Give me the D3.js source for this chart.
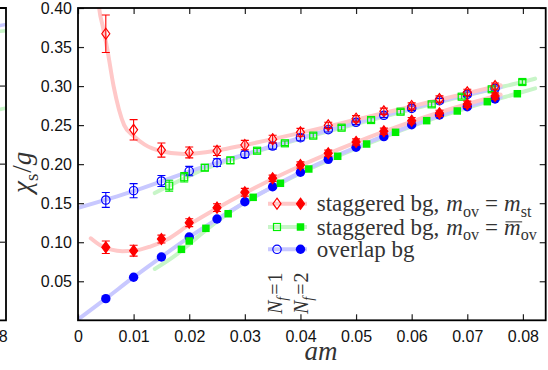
<!DOCTYPE html>
<html><head><meta charset="utf-8">
<script src="https://cdn.jsdelivr.net/npm/d3@7"></script>
<style>body{margin:0;background:#fff}svg{display:block}</style>
</head><body><svg id="c" width="548" height="370"></svg>
<script>
// ---------- data ----------
const xTickValues = [0,0.01,0.02,0.03,0.04,0.05,0.06,0.07,0.08];
const xTickLabels = ["0","0.01","0.02","0.03","0.04","0.05","0.06","0.07","0.08"];
const yTickValues = [0.05,0.10,0.15,0.20,0.25,0.30,0.35,0.40];
const yTickLabels = ["0.05","0.10","0.15","0.20","0.25","0.30","0.35","0.40"];

const massX = [0.005,0.01,0.015,0.02,0.025,0.03,0.035,0.04,0.045,0.05,0.055,0.06,0.065,0.07,0.075];
// staggered bg, m_ov = m_st
const stNf1Y   = [0.367,0.244,0.218,0.215,0.217,0.2245,0.232,0.2408,0.2497,0.2582,0.2677,0.2745,0.2834,0.292,0.300];
const stNf1Err = [0.024,0.013,0.009,0.007,0.006,0.006,0.005,0.005,0.004,0.004,0.004,0.004,0.004,0.004,0.004];
const stNf2Y   = [0.0935,0.0892,0.1041,0.125,0.1443,0.164,0.1819,0.1989,0.2139,0.2284,0.2421,0.2557,0.2651,0.2767,0.2873];
const stNf2Err = [0.008,0.007,0.005,0.005,0.005,0.005,0.004,0.004,0.004,0.004,0.004,0.004,0.004,0.004,0.004];
// overlap bg
const ovNf1Y   = [0.1541,0.166,0.1784,0.1912,0.2019,0.2126,0.2232,0.2339,0.2441,0.2536,0.2626,0.2715,0.2813,0.2895,0.2971];
const ovNf1Err = [0.0095,0.009,0.007,0.006,0.005,0.004,0.004,0.004,0.003,0.003,0.003,0.003,0.003,0.003,0.003];
const ovNf2Y   = [0.0277,0.0551,0.0811,0.1067,0.1297,0.1519,0.1711,0.1896,0.2062,0.2216,0.2352,0.2505,0.263,0.2736,0.2834];
// staggered bg, m_ov = mbar_ov
const sbNf1X   = [0.0164,0.0191,0.0228,0.0274,0.0322,0.0372,0.0423,0.0474,0.0527,0.058,0.0636,0.069,0.0744,0.0799];
const sbNf1Y   = [0.1724,0.1832,0.1955,0.2048,0.2172,0.2267,0.2365,0.2467,0.2565,0.2672,0.2766,0.2864,0.2959,0.3052];
const sbNf1Err = [0.007,0.006,0.004,0.004,0.003,0.003,0.003,0.003,0.003,0.003,0.003,0.003,0.003,0.003];
const sbNf2X   = [0.0186,0.0200,0.0230,0.0270,0.0315,0.0364,0.0415,0.0467,0.0519,0.0571,0.0627,0.0682,0.0736,0.0790];
const sbNf2Y   = [0.0909,0.1016,0.1178,0.1365,0.1575,0.1755,0.1938,0.2101,0.2258,0.2408,0.2557,0.2681,0.2800,0.2902];

// fit curves
const fitStNf1X = [0.0033,0.0038,0.0045,0.0052,0.0064,0.0083,0.010,0.012,0.015,0.019,0.025,0.03,0.04,0.05,0.06,0.07,0.076];
const fitStNf1Y = [0.44,0.40,0.375,0.35,0.30,0.25,0.236,0.225,0.2165,0.213,0.2175,0.2245,0.240,0.257,0.274,0.291,0.301];
const fitStNf2X = [0.0023,0.004,0.006,0.008,0.010,0.013,0.016,0.02,0.025,0.03,0.04,0.05,0.06,0.07,0.076];
const fitStNf2Y = [0.105,0.096,0.0905,0.0885,0.089,0.0945,0.1035,0.1225,0.1435,0.163,0.198,0.228,0.2545,0.277,0.289];
const fitOvNf1X = [0,0.01,0.02,0.03,0.04,0.05,0.06,0.07,0.076];
const fitOvNf1Y = [0.1440,0.1655,0.1905,0.2125,0.2335,0.253,0.2715,0.289,0.2985];
const fitOvNf2X = [0,0.005,0.01,0.015,0.02,0.025,0.03,0.04,0.05,0.06,0.07,0.076];
const fitOvNf2Y = [0.001,0.0277,0.0552,0.0812,0.1065,0.1295,0.151,0.1895,0.2215,0.2495,0.2735,0.2855];
const fitSbNf1X = [0.0138,0.0164,0.0191,0.0228,0.0274,0.0322,0.0372,0.0423,0.0474,0.0527,0.058,0.0636,0.069,0.0744,0.0799,0.0822];
const fitSbNf1Y = [0.163,0.1725,0.182,0.194,0.2055,0.2165,0.227,0.2368,0.2465,0.2565,0.2665,0.277,0.2865,0.296,0.3052,0.3095];
const fitSbNf2X = [0.0138,0.0186,0.02,0.023,0.027,0.0315,0.0364,0.0415,0.0467,0.0519,0.0571,0.0627,0.0682,0.0736,0.079,0.0822];
const fitSbNf2Y = [0.0657,0.089,0.0975,0.1155,0.137,0.1575,0.1755,0.1935,0.2100,0.2255,0.2405,0.2555,0.2678,0.2797,0.2905,0.297];

// fragments of the neighbouring panel at the far left
const leftPanelX = [0.0800,0.0826];
const leftBlueY  = [0.376,0.379];
const leftGreenY = [0.369,0.371];
const leftGreen2Y= [0.268,0.272];
const leftTickValues = [0.1,0.2,0.3];

// ---------- drawing ----------
const svg = d3.select("#c");
svg.append("rect").attr("width",548).attr("height",370).attr("fill","#fff");

const x = d3.scaleLinear().domain([0,0.0841]).range([78,545.7]);
const y = d3.scaleLinear().domain([0,0.4]).range([320.3,8]);

const RED="#ff0000", BLUE="#0000ff", GREEN="#00ee00";
const PINK="#ffc8c8", LBLUE="#c8c8ff", LGREEN="#c8f5c8";
const SANS="'Liberation Sans', Arial, Helvetica, sans-serif";
const SERIF="'Liberation Serif', 'Times New Roman', 'DejaVu Serif', serif";

svg.append("clipPath").attr("id","clip").append("rect")
  .attr("x",78).attr("y",8).attr("width",545.7-78).attr("height",320.3-8);

// left partial panel
const xl = d3.scaleLinear().domain([0.0800,0.0825]).range([-7.9,6]);
const lp = svg.append("g");
const lline = d3.line().x((d,i)=>xl(leftPanelX[i])).y(d=>y(d));
[[leftBlueY,LBLUE],[leftGreenY,LGREEN],[leftGreen2Y,LGREEN]].forEach(([a,c])=>{
  lp.append("path").attr("d",lline(a)).attr("fill","none").attr("stroke",c).attr("stroke-width",3.5);
});
lp.append("path").attr("d",`M${xl(0.078)},${y(0.4)}H${xl(0.0825)}V${y(0)}H${xl(0.078)}`)
  .attr("fill","none").attr("stroke","#000").attr("stroke-width",1.8);
leftTickValues.forEach(v=>{
  lp.append("line").attr("x1",xl(0.0825)).attr("x2",xl(0.0825)-6).attr("y1",y(v)).attr("y2",y(v))
    .attr("stroke","#222").attr("stroke-width",1.2);
});
lp.append("text").attr("x",xl(0.08)).attr("y",342).attr("text-anchor","middle")
  .style("font-family",SANS).style("font-size","16px").attr("fill","#111").text("0.08");

// fit curves
const curveG = svg.append("g").attr("clip-path","url(#clip)");
function fit(xs,ys,color){
  const pts = xs.map((v,i)=>[v,ys[i]]);
  curveG.append("path").datum(pts)
    .attr("d",d3.line().x(d=>x(d[0])).y(d=>y(d[1])).curve(d3.curveMonotoneX))
    .attr("fill","none").attr("stroke",color).attr("stroke-width",4).attr("stroke-linecap","round");
}
fit(fitSbNf1X,fitSbNf1Y,LGREEN);
fit(fitSbNf2X,fitSbNf2Y,LGREEN);
fit(fitOvNf1X,fitOvNf1Y,LBLUE);
fit(fitOvNf2X,fitOvNf2Y,LBLUE);
fit(fitStNf1X,fitStNf1Y,PINK);
fit(fitStNf2X,fitStNf2Y,PINK);

// markers
const ptG = svg.append("g").attr("clip-path","url(#clip)");
function diamond(g,cx,cy,filled,color){
  g.append("path").attr("d",`M${cx},${cy-5.5}L${cx+4},${cy}L${cx},${cy+5.5}L${cx-4},${cy}Z`)
    .attr("fill",filled?color:"none").attr("stroke",color).attr("stroke-width",1.2);
}
function circle(g,cx,cy,filled,color){
  g.append("circle").attr("cx",cx).attr("cy",cy).attr("r",filled?4.7:4.2)
    .attr("fill",filled?color:"none").attr("stroke",color).attr("stroke-width",filled?0:1.2);
}
function square(g,cx,cy,filled,color){
  const s = filled?7.5:7;
  g.append("rect").attr("x",cx-s/2).attr("y",cy-s/2).attr("width",s).attr("height",s)
    .attr("fill",filled?color:"none").attr("stroke",color).attr("stroke-width",filled?0:1.2);
}
function errbar(g,cx,v,e,color){
  const y1=y(v+e), y2=y(v-e);
  g.append("path").attr("d",`M${cx},${y1}V${y2}M${cx-4},${y1}H${cx+4}M${cx-4},${y2}H${cx+4}`)
    .attr("fill","none").attr("stroke",color).attr("stroke-width",1.1);
}
function series(xs,ys,errs,marker,filled,color){
  xs.forEach((v,i)=>{
    if(errs) errbar(ptG,x(v),ys[i],errs[i],color);
    marker(ptG,x(v),y(ys[i]),filled,color);
  });
}
series(massX,ovNf1Y,ovNf1Err,circle,false,BLUE);
series(massX,ovNf2Y,null,circle,true,BLUE);
series(sbNf1X,sbNf1Y,sbNf1Err,square,false,GREEN);
series(sbNf2X,sbNf2Y,null,square,true,GREEN);
series(massX,stNf1Y,stNf1Err,diamond,false,RED);
series(massX,stNf2Y,stNf2Err,diamond,true,RED);

// axes
const axG = svg.append("g");
const axBottom = axG.append("g").attr("transform","translate(0,320.3)")
  .call(d3.axisBottom(x).tickValues(xTickValues).tickFormat((d,i)=>xTickLabels[i]).tickSize(-6).tickPadding(10.3));
const axTop = axG.append("g").attr("transform","translate(0,8)")
  .call(d3.axisTop(x).tickValues(xTickValues).tickFormat("").tickSize(-6));
const axLeft = axG.append("g").attr("transform","translate(78,0)")
  .call(d3.axisLeft(y).tickValues(yTickValues).tickFormat((d,i)=>yTickLabels[i]).tickSize(-6).tickPadding(6));
const axRight = axG.append("g").attr("transform","translate(545.7,0)")
  .call(d3.axisRight(y).tickValues(yTickValues).tickFormat("").tickSize(-6));
[axBottom,axTop,axLeft,axRight].forEach(a=>{
  a.attr("font-family",null).attr("font-size",null);
  a.select(".domain").remove();
  a.selectAll(".tick line").attr("stroke","#222").attr("stroke-width",1.2);
  a.selectAll("text").style("font-family",SANS).style("font-size","16px").attr("fill","#111");
});
axG.append("rect").attr("x",78).attr("y",8).attr("width",545.7-78).attr("height",320.3-8)
  .attr("fill","none").attr("stroke","#000").attr("stroke-width",1.8);

// serif text helper: pieces laid out sequentially
function richText(g,x0,y0,pieces,size,color){
  let cx=x0; const out=[];
  pieces.forEach(p=>{
    cx += p.padL||0;
    const fs = p.sub? size*0.7 : size;
    const t = g.append("text").attr("x",cx).attr("y",y0+(p.sub?size*0.25:0))
      .style("font-family",SERIF).style("font-size",fs+"px").style("white-space","pre")
      .attr("fill",color).style("font-style",p.it?"italic":"normal").text(p.t);
    const w = t.node().getComputedTextLength();
    out.push({x:cx,w:w,p:p});
    if(p.bar){
      g.append("line").attr("x1",cx+1.5).attr("x2",cx+w+1.5).attr("y1",y0-size*0.55).attr("y2",y0-size*0.55)
        .attr("stroke",color).attr("stroke-width",1);
    }
    cx += w + (p.padR||0);
  });
  return out;
}

// legend
const TXT="#333";
const legend = svg.append("g");
const rows = [
  {y:203.7, color:RED, line:PINK, marker:diamond,
   pieces:[{t:"staggered bg,",padR:7},{t:"m",it:1},{t:"ov",sub:1,padR:6},{t:"=",padR:6},{t:"m",it:1},{t:"st",sub:1}]},
  {y:227, color:GREEN, line:LGREEN, marker:square,
   pieces:[{t:"staggered bg,",padR:7},{t:"m",it:1},{t:"ov",sub:1,padR:6},{t:"=",padR:6},{t:"m",it:1,bar:1},{t:"ov",sub:1}]},
  {y:249.3, color:BLUE, line:LBLUE, marker:circle,
   pieces:[{t:"overlap bg"}]}
];
rows.forEach(r=>{
  legend.append("line").attr("x1",268).attr("x2",307).attr("y1",r.y).attr("y2",r.y)
    .attr("stroke",r.line).attr("stroke-width",4);
  r.marker(legend,277,r.y,false,r.color);
  r.marker(legend,300.5,r.y,true,r.color);
  richText(legend,316.7,r.y+7.5,r.pieces,23,TXT);
});

// N_f annotations (rotated)
function nfLabel(px,py,num){
  const g = svg.append("g").attr("transform",`translate(${px},${py}) rotate(-90)`);
  richText(g,0,0,[{t:"N",it:1},{t:"f",it:1,sub:1,padR:2},{t:"=",padR:1},{t:num}],20,TXT);
}
nfLabel(281.5,314,"1");
nfLabel(308,314,"2");

// axis labels
svg.append("text").attr("x",x(0.0437)).attr("y",360).attr("text-anchor","middle")
  .style("font-family",SERIF).style("font-size","27px").style("font-style","italic").attr("fill",TXT).text("am");

const yl = svg.append("g").attr("transform","translate(31,193) rotate(-90)");
richText(yl,0,0,[{t:"χ",it:1},{t:"s",sub:1,padR:1},{t:"/"},{t:"g",it:1}],27,TXT);
</script>
</body></html>
